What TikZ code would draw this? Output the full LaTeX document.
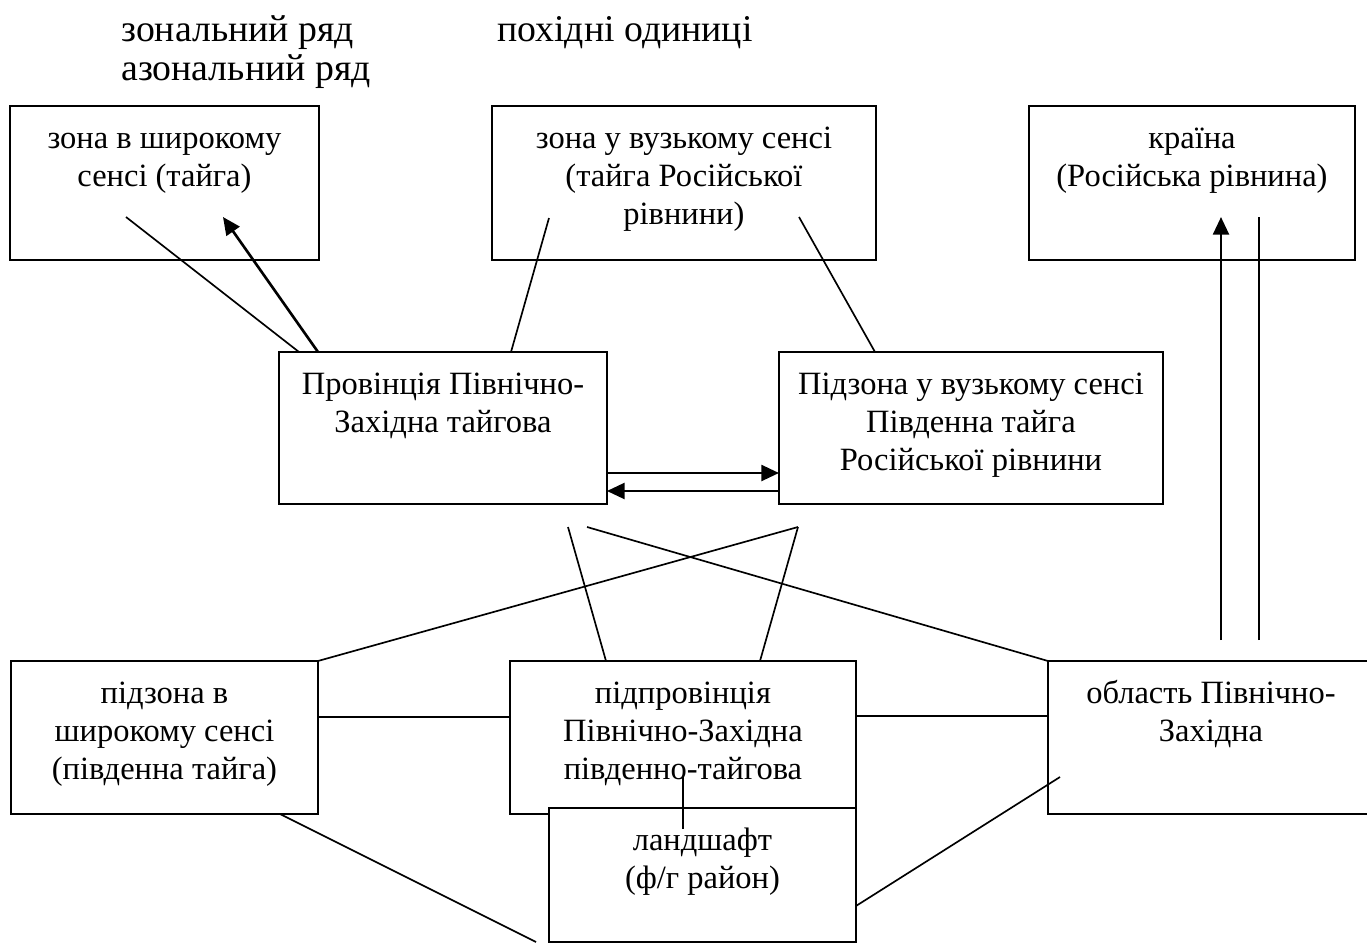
\documentclass[tikz,border=0pt]{standalone}
\usepackage{fontspec}
\setmainfont{Liberation Serif}
\usetikzlibrary{arrows.meta, calc}

% text of a box: fixed size, lines start at the top
\newcommand{\boxtext}[3]{\parbox[c][#2][t]{#1}{\centering\rule{0pt}{0.86cm}#3}}

\begin{document}
\begin{tikzpicture}[
    x=0.02cm, y=-0.02cm,
    box/.style={rectangle, draw, line width=1.1pt, inner sep=0pt, outer sep=0pt, anchor=north west, font=\fontsize{18.5}{21.5}\selectfont},
    heading/.style={anchor=base west, inner sep=0pt, font=\fontsize{21.5}{24}\selectfont},
    link/.style={line width=0.95pt},
    arrow/.style={-{Triangle[length=10pt, width=9pt]}, line width=1.5pt},
]
\useasboundingbox (0,0) rectangle (1367,943);

% ============ headings ============
\node[heading] (zonal) at (121,41) {зональний ряд};
\node[heading] (azonal) at (121,80) {азональний ряд};
\node[heading] (derived) at (497,41) {похідні одиниці};

% ============ top row ============
\node[box] (zonewide) at (10,106)
      {\boxtext{6.18cm}{3.08cm}{зона в широкому\\сенсі (тайга)}};
\node[box] (zonenarrow) at (492,106)
      {\boxtext{7.68cm}{3.08cm}{зона у вузькому сенсі\\(тайга Російської\\рівнини)}};
\node[box] (country) at (1029,106)
      {\boxtext{6.52cm}{3.08cm}{країна\\(Російська рівнина)}};

% ============ middle row ============
\node[box] (province) at (279,352)
      {\boxtext{6.56cm}{3.04cm}{Провінція Північно-\\Західна тайгова}};
\node[box] (subzonenarrow) at (779,352)
      {\boxtext{7.68cm}{3.04cm}{Підзона у вузькому сенсі\\Південна тайга\\Російської рівнини}};

% ============ bottom row ============
\node[box] (subzonewide) at (11,661)
      {\boxtext{6.14cm}{3.06cm}{підзона в\\широкому сенсі\\(південна тайга)}};
\node[box] (subprovince) at (510,661)
      {\boxtext{6.92cm}{3.06cm}{підпровінція\\Північно-Західна\\південно-тайгова}};
\node[box] (region) at (1048,661)
      {\boxtext{6.52cm}{3.06cm}{область Північно-\\Західна}};
\node[box, fill=white] (landscape) at (549,808)
      {\boxtext{6.14cm}{2.68cm}{ландшафт\\(ф/г район)}};

% ============ free ends ============
\coordinate (zw-in) at (126,217);
\coordinate (zw-tip) at (223,217);
\coordinate (zn-left) at (549,218);
\coordinate (zn-right) at (799,217);
\coordinate (cross-a) at (568,527);
\coordinate (cross-b) at (587,527);
\coordinate (cross-c) at (798,527);
\coordinate (land-end) at (536,942);
\coordinate (reg-in) at (1060,777);
\coordinate (up-foot) at (1221,640);
\coordinate (up-tip) at (1221,217);
\coordinate (line-foot) at (1259,640);
\coordinate (line-top) at (1259,217);

% ============ connectors ============
% top to middle
\draw[link] (zw-in) -- ($(province.north west)+(20,0)$);
\draw[arrow] ($(province.north west)+(39,0)$) -- (zw-tip);
\draw[link] (zn-left) -- ($(province.north west)+(232,0)$);
\draw[link] (zn-right) -- ($(subzonenarrow.north west)+(96,0)$);

% province <-> subzone
\draw[arrow] ($(province.north east)+(0,121)$) -- ($(subzonenarrow.north west)+(0,121)$);
\draw[arrow] ($(subzonenarrow.north west)+(0,139)$) -- ($(province.north east)+(0,139)$);

% crossing lines
\draw[link] (cross-a) -- ($(subprovince.north west)+(96,0)$);
\draw[link] (cross-b) -- (region.north west);
\draw[link] (cross-c) -- ($(subprovince.north west)+(250,0)$);
\draw[link] (cross-c) -- (subzonewide.north east);

% bottom row
\draw[link] ($(subzonewide.north east)+(0,56)$) -- ($(subprovince.north west)+(0,56)$);
\draw[link] ($(subprovince.north east)+(0,55)$) -- ($(region.north west)+(0,55)$);
\draw[link] ($(subprovince.north west)+(173,116)$) -- ($(landscape.north west)+(134,21)$);
\draw[link] ($(subzonewide.south west)+(269,0)$) -- (land-end);
\draw[link] ($(landscape.north east)+(0,98)$) -- (reg-in);

% up to country
\draw[arrow] (up-foot) -- (up-tip);
\draw[link] (line-foot) -- (line-top);

\end{tikzpicture}
\end{document}
